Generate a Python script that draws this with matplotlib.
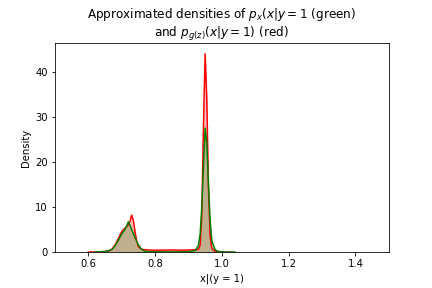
import matplotlib as mpl
mpl.use("Agg")
import matplotlib.pyplot as plt

# Curves (approximate KDE shapes)
red_x = [0.60, 0.62, 0.64, 0.66, 0.67, 0.68, 0.69, 0.70, 0.71, 0.715, 0.72,
         0.725, 0.73, 0.735, 0.74, 0.745, 0.75, 0.76, 0.78, 0.80, 0.85, 0.88,
         0.90, 0.92, 0.93, 0.935, 0.94, 0.945, 0.95, 0.955, 0.96, 0.965, 0.97,
         0.98, 1.00, 1.03]
red_y = [0.0, 0.02, 0.05, 0.2, 0.6, 1.5, 3.0, 4.5, 5.3, 5.6, 6.0,
         6.8, 8.2, 7.0, 4.5, 2.5, 1.2, 0.6, 0.45, 0.4, 0.45, 0.4,
         0.45, 0.5, 0.6, 1.5, 8.0, 28.0, 44.0, 34.0, 14.0, 3.5, 0.8,
         0.15, 0.02, 0.0]

green_x = [0.62, 0.65, 0.67, 0.68, 0.69, 0.70, 0.71, 0.715, 0.72, 0.725, 0.73,
           0.74, 0.75, 0.76, 0.77, 0.78, 0.85, 0.90, 0.92, 0.93, 0.935, 0.94,
           0.945, 0.95, 0.955, 0.96, 0.965, 0.97, 0.98, 0.99, 1.01, 1.04]
green_y = [0.0, 0.1, 0.5, 1.3, 2.6, 4.0, 5.0, 5.8, 6.7, 6.0, 5.0,
           3.2, 1.6, 0.6, 0.15, 0.05, 0.02, 0.05, 0.3, 1.5, 4.0, 10.0,
           19.0, 27.5, 24.0, 15.0, 7.0, 2.5, 0.5, 0.1, 0.02, 0.0]

fig = plt.figure(figsize=(6, 4), dpi=72)
ax = fig.add_axes([0.127, 0.125, 0.773, 0.726])

ax.fill_between(red_x, red_y, color="r", alpha=0.25, lw=0)
ax.plot(red_x, red_y, color="r", lw=1.5)
ax.fill_between(green_x, green_y, color="g", alpha=0.25, lw=0)
ax.plot(green_x, green_y, color="g", lw=1.5)

ax.set_xlim(0.5, 1.5)
ax.set_ylim(0, 46.4)
ax.set_xlabel("x|(y = 1)")
ax.set_ylabel("Density")
ax.set_title("Approximated densities of $p_x(x|y=1$ (green)\nand $p_{g(z)}(x|y=1)$ (red)")

fig.savefig("out.png", dpi=72)
